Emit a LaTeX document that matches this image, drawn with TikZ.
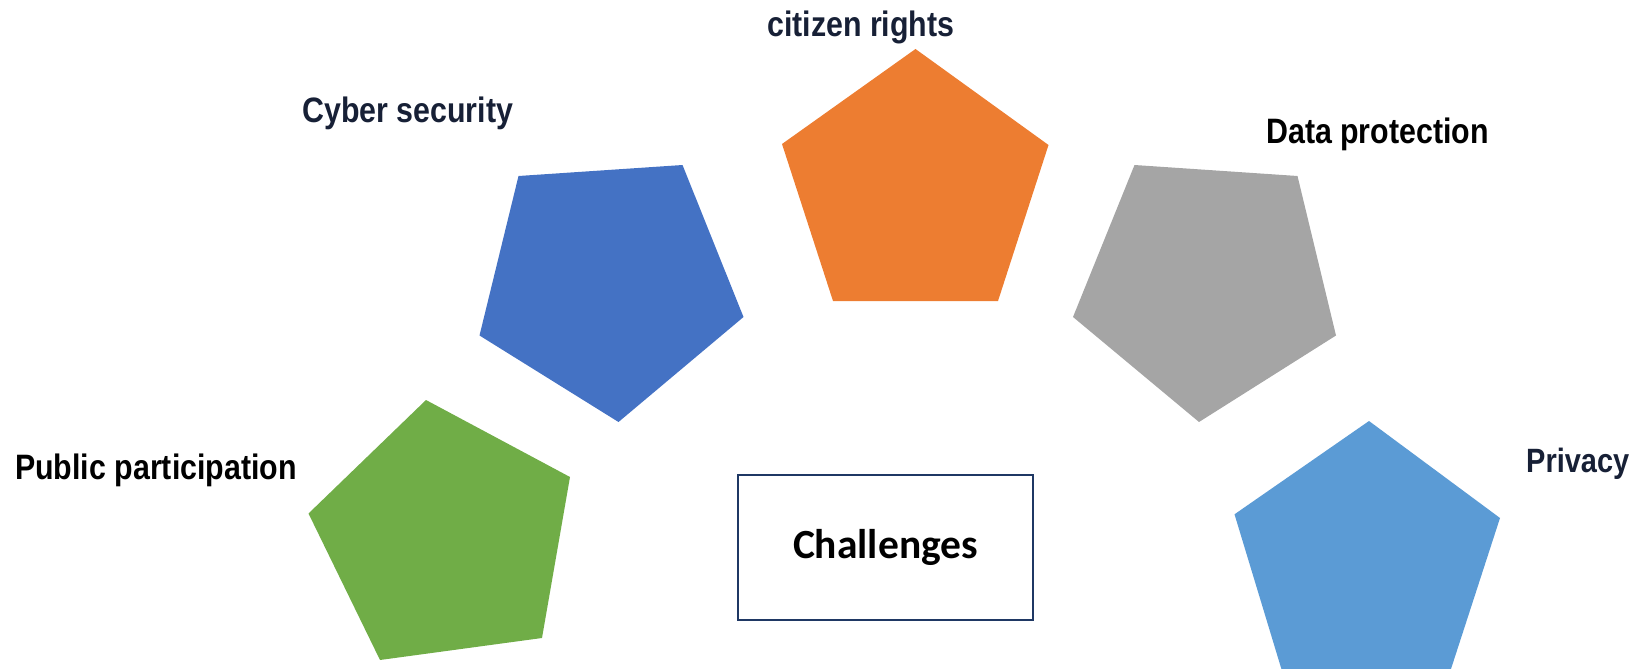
\documentclass[tikz,border=0pt]{standalone}
\usepackage{fontspec}
\newfontfamily\labfont[FakeStretch=0.86]{Liberation Sans}
\newfontfamily\calfont{Carlito}
\definecolor{cOrange}{HTML}{ED7D31}
\definecolor{cBlue}{HTML}{4472C4}
\definecolor{cGray}{HTML}{A5A5A5}
\definecolor{cGreen}{HTML}{70AD47}
\definecolor{cLight}{HTML}{5B9BD5}
\definecolor{navy}{HTML}{172036}
\definecolor{boxnavy}{HTML}{1F3864}
\tikzset{
  lab/.style={inner sep=0pt, anchor=base west, font=\labfont\bfseries\fontsize{35.3}{40}\selectfont},
  navylab/.style={lab, text=navy},
  blacklab/.style={lab, text=black},
  challbox/.style={draw=boxnavy, line width=2pt, fill=white}
}
\begin{document}
\begin{tikzpicture}[x=1pt,y=-1pt]
\useasboundingbox (0,0) rectangle (1638,669);
\clip (0,0) rectangle (1638,669);
% pentagons
\fill[cOrange] (915.5,49) -- (1048.5,145) -- (998,301) -- (833,301) -- (782,144) -- cycle;
\fill[cBlue] (518.5,176) -- (682.5,165) -- (743.5,317) -- (618.5,422) -- (479.5,335.5) -- cycle;
\fill[cGray] (1134.5,165) -- (1297.5,176) -- (1336,335.5) -- (1199,422) -- (1073,317) -- cycle;
\fill[cGreen] (426,400) -- (570,477) -- (542,638) -- (380,660) -- (308.5,513.5) -- cycle;
\fill[cLight] (1369,421) -- (1500,518) -- (1450,672) -- (1282,671) -- (1234.5,514.3) -- cycle;
% centre box
\draw[challbox] (737.5,474.5) rectangle (1033,619.5);
\node[anchor=base, inner sep=0pt, font=\calfont\bfseries\fontsize{41.5}{48}\selectfont] (chall) at (885.5,558) {Challenges};
% labels
\node[navylab] (citizen) at (767,37) {citizen rights};
\node[navylab] (cyber) at (302,122) {Cyber security};
\node[blacklab] (data) at (1266,143) {Data protection};
\node[blacklab] (public) at (15,479) {Public participation};
\node[navylab, font=\labfont\bfseries\fontsize{33.7}{40}\selectfont] (privacy) at (1526,472) {Privacy};
\end{tikzpicture}
\end{document}
